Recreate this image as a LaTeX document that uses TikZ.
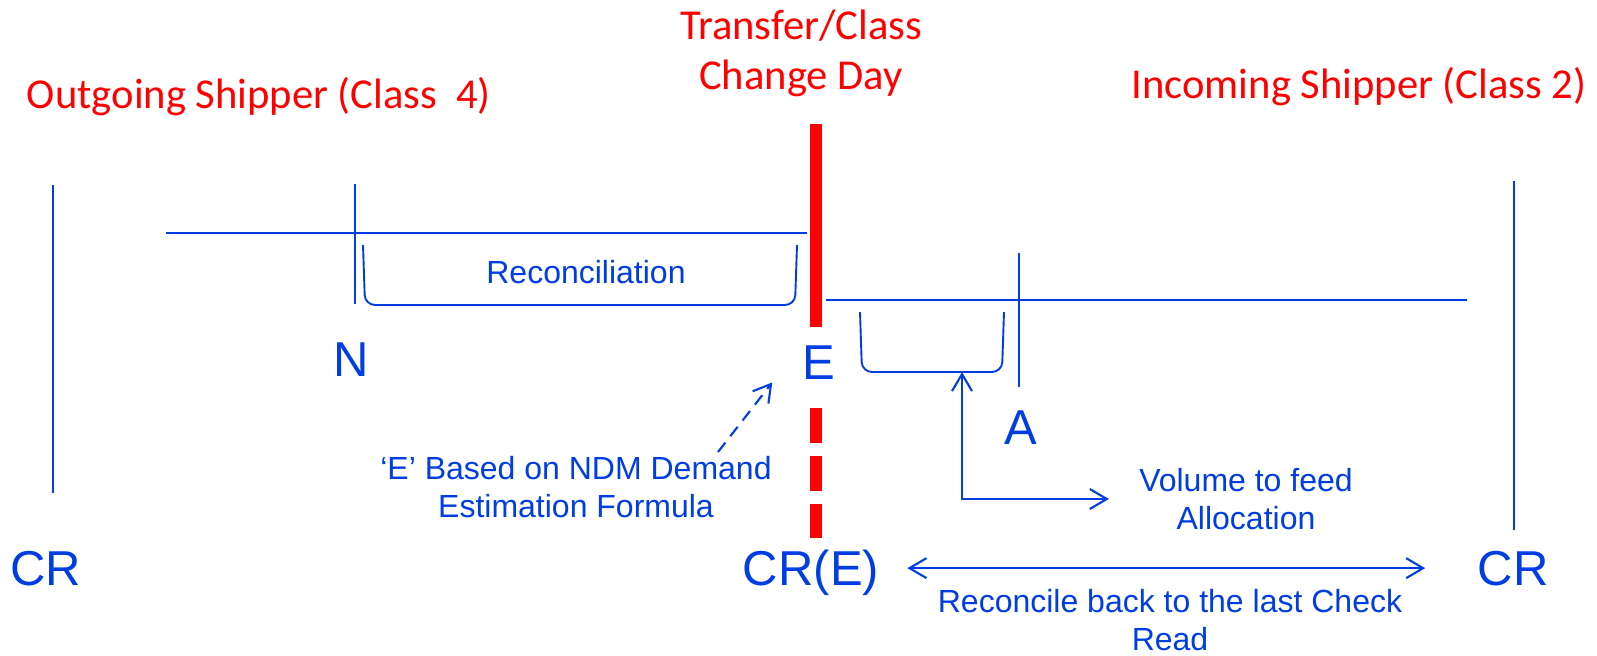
\documentclass[tikz,border=0pt]{standalone}
\usepackage{fontspec}
\setmainfont{Liberation Sans}
\newfontfamily\titlefont{Carlito}
\usepackage{xcolor}
\usetikzlibrary{arrows.meta, positioning}
\definecolor{lineblue}{RGB}{0,62,228}
\definecolor{dayred}{RGB}{255,0,0}

\begin{document}
\begin{tikzpicture}[
    x=0.5pt, y=-0.5pt,
    >={Straight Barb[length=8.5pt,width=10pt]},
    axis/.style={lineblue, line width=1.05pt},
    bracket/.style={lineblue, line width=0.95pt, rounded corners=5pt},
    barb/.style={lineblue, line width=1.05pt},
    dayline/.style={dayred, line width=6pt},
    heading/.style={text=dayred, font=\titlefont\fontsize{21.3pt}{25pt}\selectfont, inner sep=0pt, align=center},
    letter/.style={text=lineblue, font=\fontsize{24.5pt}{29pt}\selectfont, inner sep=0pt, anchor=base},
    note/.style={text=lineblue, font=\fontsize{16pt}{19pt}\selectfont, inner sep=0pt, align=center}
]
\useasboundingbox (0,0) rectangle (1597,655);
\fill[white] (0,0) rectangle (1597,655);

% Headings
\node[heading, anchor=base] (outgoing) at (259,108) {Outgoing Shipper (Class\ \ 4)};
\node[heading, anchor=base] (incoming) at (1359,98) {Incoming Shipper (Class 2)};
\node[heading] (day) at (801,53) {Transfer/Class\\Change Day};

% Transfer day
\draw[dayline] (816,124) -- (816,327);
\draw[dayline, dash pattern=on 17.5pt off 6.5pt] (816,408) -- (816,538);

% Timelines
\draw[axis] (166,233) -- (807,233);
\draw[axis] (826,300) -- (1467,300);
\draw[axis] (53,185) -- (53,493);
\draw[axis] (1514,181) -- (1514,530);
\draw[axis] (355,184) -- (355,304);
\draw[axis] (1019,253) -- (1019,387);

% Brackets
\draw[bracket] (363,245) -- (365,305) -- (795,305) -- (797,245);
\node[note, anchor=base] (recon) at (586,283) {Reconciliation};
\draw[bracket] (860,312) -- (862,372) -- (1002,372) -- (1004,312);
\coordinate (feedtip) at (962,372);

% Read points
\node[letter] (n) at (351,376) {N};
\node[letter] (e) at (819,379) {E};
\node[letter] (a) at (1021,444) {A};
\node[letter] (crl) at (46,585) {CR};
\node[letter] (cre) at (811,585) {CR(E)};
\node[letter] (crr) at (1513,585) {CR};

% Notes
\node[note] (formula) at (576,487) {‘E’ Based on NDM Demand\\Estimation Formula};
\node[note] (feed) at (1246,499) {Volume to feed\\Allocation};
\node[note] (back) at (1170,620) {Reconcile back to the last Check\\Read};

% Arrows
\coordinate (estart) at (718,452);
\draw[barb, ->, dash pattern=on 6pt off 4pt] (estart) -- ([xshift=-15pt, yshift=-1.5pt]e.south west);
\draw[barb, <->] (feedtip) |- ([xshift=-15pt]feed.west);
\draw[barb, <->] ([xshift=14pt]cre.east |- crr.west) -- ([xshift=-26pt]crr.west);

\end{tikzpicture}
\end{document}
